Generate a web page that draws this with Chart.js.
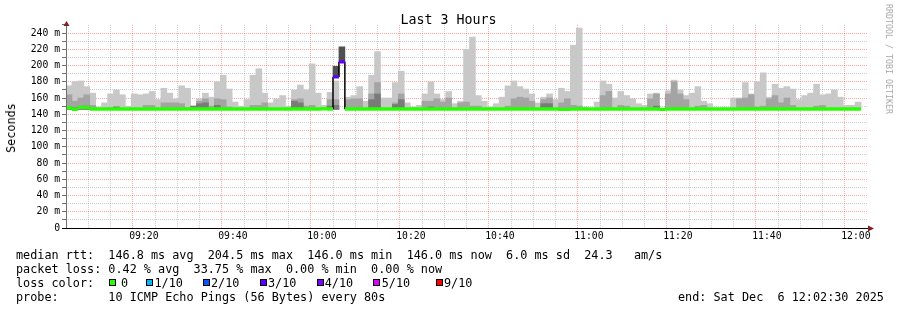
<!DOCTYPE html>
<html lang="en">
<head>
<meta charset="utf-8">
<title>Last 3 Hours</title>
<script src="https://cdn.jsdelivr.net/npm/chart.js@4.4.1/dist/chart.umd.min.js"></script>
<style>
  html, body { margin: 0; padding: 0; background: #ffffff; }
  #graph-box {
    position: relative; width: 897px; height: 310px; overflow: hidden;
    font-family: "DejaVu Sans Mono", monospace; color: #000000;
  }
  #graph { position: absolute; left: 0; top: 0; }
  #title {
    position: absolute; left: 0; top: 11.5px; width: 897px;
    text-align: center; font-size: 13.3px; line-height: 16px; white-space: pre;
  }
  #y-title {
    position: absolute; left: 11px; top: 127.5px; white-space: pre;
    transform: translate(-50%, -50%) rotate(-90deg);
    font-size: 11.8px; line-height: 14px;
  }
  #credit {
    position: absolute; left: 888.5px; top: 59px; white-space: pre;
    transform: translate(-50%, -50%) rotate(90deg);
    font-size: 8.3px; line-height: 10px; color: #a8a8a8;
  }
  .row { position: absolute; left: 16px; white-space: pre; font-size: 11.8px; line-height: 14px; }
  .swatch { position: absolute; top: 278.5px; width: 5px; height: 5px; border: 1px solid #000000; }
  .swatch-label { position: absolute; top: 275.5px; white-space: pre; font-size: 11.8px; line-height: 14px; }
</style>
</head>
<body>
<div id="graph-box">
  <canvas id="graph" width="897" height="310"></canvas>
  <div id="title">Last 3 Hours</div>
  <div id="y-title">Seconds</div>
  <div id="credit">RRDTOOL / TOBI OETIKER</div>
  <div class="row" style="top:247.5px">median rtt:  146.8 ms avg  204.5 ms max  146.0 ms min  146.0 ms now  6.0 ms sd  24.3   am/s</div>
  <div class="row" style="top:261.5px">packet loss: 0.42 % avg  33.75 % max  0.00 % min  0.00 % now</div>
  <div class="row" style="top:275.5px">loss color:</div>
  <div class="row" style="top:289.5px">probe:       10 ICMP Echo Pings (56 Bytes) every 80s</div>
  <div class="row" style="top:289.5px; left:678px">end: Sat Dec  6 12:02:30 2025</div>
  <div id="loss-legend"></div>
</div>
<script>
const STEP_SECONDS = 80;
const START_TIME = "09:02:30";
const SPAN_MINUTES = 180;

// median rtt per 80 s step (ms)
const MEDIAN = [
  148, 146.2, 148.5, 148.5, 146.5, 146.5, 146.5, 146.5, 146.5, 146.5,
  146.5, 146.5, 146.5, 146.5, 146.5, 146.5, 146.5, 146.5, 146.5, 146.5,
  146.5, 146.5, 146.5, 146.5, 146.5, 146.5, 146.5, 146.5, 146.5, 146.5,
  146.5, 146.5, 146.5, 146.5, 146.5, 146.5, 146.5, 146.5, 146.5, 146.5,
  146.5, 146.5, 146.5, 146.8, 146.5, 186, 204.5, 146.5, 146.5, 146.5,
  146.5, 146.5, 146.5, 146.5, 146.5, 146.5, 146.5, 146.5, 146.5, 146.5,
  146.5, 146.5, 146.5, 146.5, 146.5, 146.5, 146.5, 146.5, 146.5, 146.5,
  146.5, 146.5, 146.5, 146.5, 146.5, 146.5, 146.5, 146.5, 146.5, 146.5,
  146.5, 146.5, 146.5, 146, 146, 146.5, 146.5, 146.5, 146.5, 146.5,
  146.5, 146.5, 146.5, 146.5, 146.5, 146.5, 146.5, 146.5, 146.5, 146.5,
  146, 146.5, 146.5, 146.5, 146.5, 146.5, 146.5, 146.5, 146.5, 146.5,
  146.5, 146.5, 146.5, 146.5, 146.5, 146.5, 146.5, 146.5, 146.5, 146.5,
  146.5, 146.5, 146.5, 146.5, 146.5, 146.5, 146.5, 146.5, 146.5, 146.5,
  146.5, 146.5, 146.5, 146.5
];

// smoke: bottom of all bands and the top of each band (ms)
const SMOKE_FLOOR = 146;
const SMOKE_LIGHT = [
  175, 180, 181, 174, 166, 149, 154, 165, 170, 164,
  150, 165, 164, 165, 168, 158, 172, 166, 159, 175,
  172, 150, 159, 166, 161, 180, 188, 171, 155, 150,
  158, 188, 196, 166, 154, 159, 163, 150, 170, 176,
  170, 202, 166, 151, 167, 181, 146, 161, 163, 174,
  156, 188, 217, 160, 160, 179, 193, 154, 149, 151,
  165, 180, 165, 158, 168, 153, 156, 220, 235, 163,
  156, 149, 153, 161, 175, 181, 174, 171, 165, 154,
  161, 165, 158, 172, 168, 225, 246, 149, 146, 155,
  181, 177, 160, 168, 163, 159, 153, 151, 165, 166,
  146, 169, 182, 170, 163, 166, 174, 156, 153, 146,
  146, 146, 160, 160, 179, 165, 180, 191, 161, 177,
  172, 174, 171, 158, 163, 166, 177, 164, 165, 170,
  161, 151, 151, 155
];
const SMOKE_MID = [
  164, 156, 160, 164, 151, 146, 146, 148, 149, 146,
  146, 146, 146, 151, 151, 146, 154, 154, 154, 153,
  148, 150, 156, 159, 150, 159, 158, 149, 146, 146,
  146, 151, 151, 154, 146, 146, 146, 146, 158, 159,
  150, 151, 146, 146, 158, 158, 146, 158, 159, 159,
  146, 165, 179, 146, 146, 154, 165, 146, 146, 146,
  156, 156, 159, 155, 160, 146, 154, 155, 150, 150,
  146, 146, 146, 146, 150, 159, 161, 160, 156, 146,
  158, 160, 146, 154, 159, 151, 150, 146, 146, 146,
  163, 168, 146, 151, 150, 146, 146, 146, 159, 165,
  146, 165, 180, 165, 158, 146, 150, 151, 146, 146,
  146, 146, 146, 159, 160, 164, 149, 150, 159, 163,
  154, 160, 151, 146, 146, 146, 150, 151, 146, 146,
  146, 146, 146, 146
];
const SMOKE_DARK = [
  149, 148, 148, 150, 146, 146, 146, 146, 149, 146,
  146, 146, 146, 146, 146, 146, 146, 146, 146, 146,
  146, 150, 153, 154, 146, 151, 146, 146, 146, 146,
  146, 146, 146, 146, 146, 146, 146, 146, 156, 154,
  146, 146, 146, 146, 150, 151, 146, 146, 146, 146,
  146, 158, 165, 146, 146, 152, 158, 146, 146, 146,
  146, 149, 146, 146, 146, 146, 146, 146, 146, 146,
  146, 146, 146, 146, 146, 146, 146, 146, 146, 146,
  153, 153, 146, 146, 146, 146, 146, 146, 146, 146,
  146, 146, 146, 146, 146, 146, 146, 146, 146, 150,
  146, 146, 146, 146, 146, 146, 146, 146, 146, 146,
  146, 146, 146, 146, 146, 146, 146, 146, 146, 146,
  146, 146, 146, 146, 146, 146, 146, 146, 146, 146,
  146, 146, 146, 146
];
// smoke above the median where pings were lost
const SPIKE_STEPS = [45, 46];
const SPIKE_LOW = [186, 204.5];
const SPIKE_HIGH = [199, 223];

const LOSS_STEPS = [45, 46];
const LOSS_PCT = [30, 33.75];

const LOSS_LABELS = ["0", "1/10", "2/10", "3/10", "4/10", "5/10", "9/10"];
const LOSS_TENTHS = [0, 1, 2, 3, 4, 5, 9];
const LOSS_COLORS = ["#26ff00", "#00b8ff", "#0059ff", "#5e00ff", "#7e00ff", "#dd00ff", "#ff0000"];

const Y_LABELS = [0, 20, 40, 60, 80, 100, 120, 140, 160, 180, 200, 220, 240];
const Y_MAX = 250;
const X_LABELS = ["09:20", "09:40", "10:00", "10:20", "10:40", "11:00", "11:20", "11:40", "12:00"];

// layout of the loss color legend row
const SWATCH_X = [108.7, 145.7, 203, 260, 316.7, 373.3, 436];
const SWATCH_TEXT_X = [121, 154.5, 211, 268, 324.7, 381.7, 444];

const STEP_MIN = STEP_SECONDS / 60;
const MGRID = "rgba(255, 0, 0, 0.36)";
const GRID = "rgba(130, 130, 130, 0.42)";
const NONE = "rgba(0, 0, 0, 0)";

function minutesOf(hhmm) {
  const p = hhmm.split(":").map(Number);
  return p[0] * 60 + p[1] + (p[2] || 0) / 60;
}

const START_MIN = minutesOf(START_TIME);
const X_MAJOR = X_LABELS.map((l) => minutesOf(l) - START_MIN);
const X_TICKS = [];
for (let v = X_MAJOR[0] % 5; v < SPAN_MINUTES; v += 5) X_TICKS.push(v);
const Y_TICKS = [];
for (let v = 0; v <= Y_MAX; v += 10) Y_TICKS.push(v);

function lossClass(i) {
  const k = LOSS_STEPS.indexOf(i);
  const tenths = k < 0 ? 0 : LOSS_PCT[k] / 10;
  let c = 0;
  LOSS_TENTHS.forEach((t, j) => {
    if (tenths >= t) c = j;
  });
  return c;
}

function smokeBars(tops, color, order) {
  const data = [];
  tops.forEach((t, i) => {
    if (t > SMOKE_FLOOR) data.push({ x: (i + 0.5) * STEP_MIN, y: [SMOKE_FLOOR, t] });
  });
  return {
    type: "bar", data, order,
    backgroundColor: color, borderWidth: 0,
    barPercentage: 1, categoryPercentage: 1, grouped: false
  };
}

function spikeBars() {
  return {
    type: "bar", order: 2,
    data: SPIKE_STEPS.map((s, k) => ({ x: (s + 0.5) * STEP_MIN, y: [SPIKE_LOW[k], SPIKE_HIGH[k]] })),
    backgroundColor: "#505050", borderWidth: 0,
    barPercentage: 1, categoryPercentage: 1, grouped: false
  };
}

function lineSet(points, color, width, order) {
  return {
    type: "line", data: points, order,
    borderColor: color, borderWidth: width, pointRadius: 0,
    tension: 0, fill: false, spanGaps: false,
    borderCapStyle: "butt", borderJoinStyle: "miter"
  };
}

function medianSets() {
  const byClass = LOSS_COLORS.map(() => []);
  MEDIAN.forEach((m, i) => {
    byClass[lossClass(i)].push(
      { x: i * STEP_MIN, y: m },
      { x: (i + 1) * STEP_MIN, y: m },
      { x: (i + 1) * STEP_MIN, y: null }
    );
  });
  const sets = [];
  byClass.forEach((pts, c) => {
    if (pts.length) sets.push(lineSet(pts, LOSS_COLORS[c], 3.4, 0));
  });
  return sets;
}

// black risers where the median enters or leaves a lossy step
function outlineSet() {
  const pts = [];
  for (let j = 1; j < MEDIAN.length; j += 1) {
    if (lossClass(j - 1) > 0 || lossClass(j) > 0) {
      pts.push(
        { x: j * STEP_MIN, y: MEDIAN[j - 1] },
        { x: j * STEP_MIN, y: MEDIAN[j] },
        { x: j * STEP_MIN, y: null }
      );
    }
  }
  return lineSet(pts, "#000000", 1.5, 1);
}

const axisArrows = {
  id: "axisArrows",
  afterDraw(chart) {
    const { ctx, chartArea: a } = chart;
    ctx.save();
    ctx.lineWidth = 1;
    ctx.strokeStyle = "#707070";
    ctx.beginPath();
    ctx.moveTo(a.left + 0.5, a.bottom);
    ctx.lineTo(a.left + 0.5, a.top - 2);
    ctx.stroke();
    ctx.strokeStyle = "#000000";
    ctx.beginPath();
    ctx.moveTo(a.left - 4, a.bottom + 0.5);
    ctx.lineTo(a.right + 2, a.bottom + 0.5);
    ctx.stroke();
    ctx.fillStyle = "#802020";
    ctx.beginPath();
    ctx.moveTo(a.left + 0.5, a.top - 4);
    ctx.lineTo(a.left + 3.5, a.top + 1);
    ctx.lineTo(a.left - 2.5, a.top + 1);
    ctx.closePath();
    ctx.fill();
    ctx.beginPath();
    ctx.moveTo(a.right + 7, a.bottom + 0.5);
    ctx.lineTo(a.right + 1, a.bottom - 2.5);
    ctx.lineTo(a.right + 1, a.bottom + 3.5);
    ctx.closePath();
    ctx.fill();
    ctx.restore();
  }
};

function buildLegend() {
  const box = document.getElementById("loss-legend");
  LOSS_LABELS.forEach((label, i) => {
    const sw = document.createElement("div");
    sw.className = "swatch";
    sw.style.left = SWATCH_X[i] + "px";
    sw.style.background = LOSS_COLORS[i];
    box.appendChild(sw);
    const tx = document.createElement("div");
    tx.className = "swatch-label";
    tx.style.left = SWATCH_TEXT_X[i] + "px";
    tx.textContent = label;
    box.appendChild(tx);
  });
}

function tickValue(c) {
  return c && c.tick ? c.tick.value : null;
}

const tickFont = { family: "'DejaVu Sans Mono'", size: 9.75 };

buildLegend();

new Chart(document.getElementById("graph"), {
  type: "line",
  data: {
    datasets: [
      ...medianSets(),
      outlineSet(),
      spikeBars(),
      smokeBars(SMOKE_DARK, "#7a7a7a", 3),
      smokeBars(SMOKE_MID, "#a4a4a4", 4),
      smokeBars(SMOKE_LIGHT, "#c8c8c8", 5)
    ]
  },
  options: {
    responsive: false,
    animation: false,
    events: [],
    layout: { padding: { left: 0, right: 30, top: 24.875, bottom: 62 } },
    plugins: { legend: { display: false }, tooltip: { enabled: false } },
    scales: {
      x: {
        type: "linear", min: 0, max: SPAN_MINUTES, offset: false,
        afterBuildTicks(scale) { scale.ticks = X_TICKS.map((v) => ({ value: v })); },
        afterFit(scale) { scale.height = 20; },
        border: { display: false, dash: [1, 1] },
        grid: {
          drawTicks: false,
          color: (c) => {
            const v = tickValue(c);
            if (v === null) return NONE;
            return X_MAJOR.includes(v) ? MGRID : GRID;
          }
        },
        ticks: {
          autoSkip: false, maxRotation: 0, minRotation: 0, padding: 3,
          color: "#000000", font: tickFont,
          callback: (v) => {
            const k = X_MAJOR.indexOf(v);
            return k < 0 ? "" : X_LABELS[k];
          }
        }
      },
      y: {
        type: "linear", min: 0, max: Y_MAX,
        afterBuildTicks(scale) { scale.ticks = Y_TICKS.map((v) => ({ value: v })); },
        afterFit(scale) { scale.width = 66; },
        border: { display: false, dash: [1, 1] },
        grid: {
          drawTicks: true, tickLength: 4, tickColor: "#707070",
          color: (c) => {
            const v = tickValue(c);
            if (v === null || v === 0 || v === Y_MAX) return NONE;
            return Y_LABELS.includes(v) ? MGRID : GRID;
          }
        },
        ticks: {
          autoSkip: false, padding: 2, color: "#000000", font: tickFont,
          callback: (v) => {
            if (!Y_LABELS.includes(v)) return "";
            return v === 0 ? "0" : v + " m";
          }
        }
      }
    }
  },
  plugins: [axisArrows]
});
</script>
